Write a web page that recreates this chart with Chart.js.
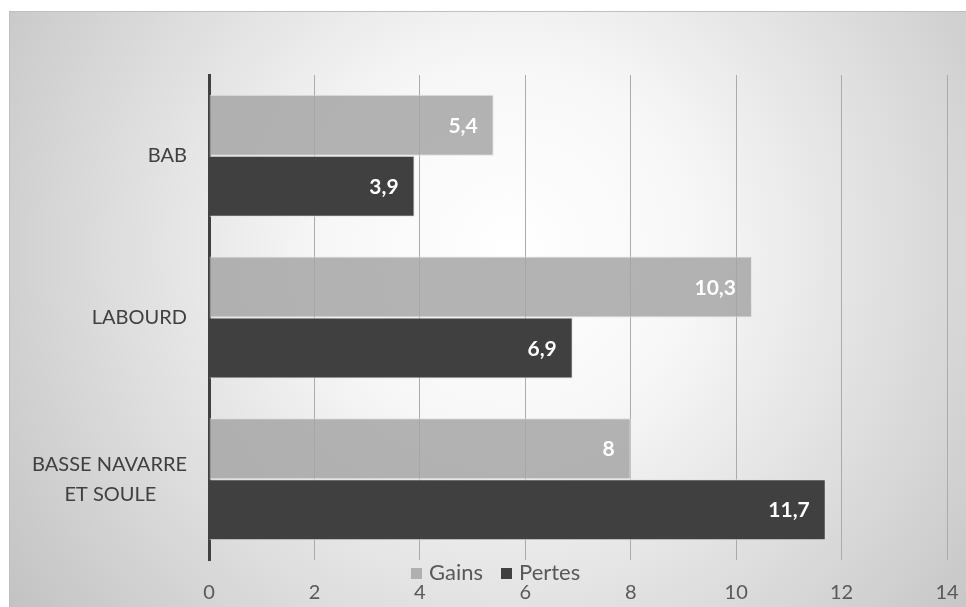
<!DOCTYPE html>
<html>
<head>
<meta charset="utf-8">
<script src="https://cdn.jsdelivr.net/npm/chart.js@4/dist/chart.umd.min.js"></script>
<style>
  html, body { margin: 0; padding: 0; background: #ffffff; }
  #wrap { position: relative; width: 966px; height: 607px; }
  canvas { display: block; }
  #legend { position: absolute; left: 411px; top: 559px; display: flex; align-items: center;
            font-family: Lato, "Open Sans", sans-serif; font-size: 22px; color: #595959; line-height: 26px; }
  #legend .item { display: flex; align-items: center; margin-right: 18px; }
  #legend .sw { width: 11px; height: 11px; margin-right: 7px; margin-top: 2px; }
</style>
</head>
<body>
<div id="wrap">
  <canvas id="c" width="966" height="607"></canvas>
  <div id="legend"></div>
</div>
<script>
const categories = [["BAB"], ["LABOURD"], ["BASSE NAVARRE", "ET SOULE      "]];
const seriesNames = ["Gains", "Pertes"];
const gains = [5.4, 10.3, 8];
const pertes = [3.9, 6.9, 11.7];
const xTicks = [0, 2, 4, 6, 8, 10, 12, 14];

const FONT = 'Lato, "Open Sans", sans-serif';

const bgPlugin = {
  id: 'bg',
  beforeDraw(chart) {
    const ctx = chart.ctx;
    ctx.save();
    const g = ctx.createRadialGradient(510, 250, 0, 510, 250, 620);
    g.addColorStop(0, '#ffffff');
    g.addColorStop(0.3, '#f7f7f7');
    g.addColorStop(1, '#c2c2c2');
    ctx.fillStyle = g;
    ctx.fillRect(9, 11, 957, 596);
    ctx.strokeStyle = '#c0c0c0';
    ctx.lineWidth = 1;
    ctx.beginPath();
    ctx.moveTo(9.5, 607); ctx.lineTo(9.5, 11.5); ctx.lineTo(966, 11.5);
    ctx.stroke();
    ctx.restore();
  }
};

const labelPlugin = {
  id: 'vals',
  afterDatasetsDraw(chart) {
    const ctx = chart.ctx;
    ctx.save();
    ctx.font = 'bold 21px ' + FONT;
    ctx.fillStyle = '#ffffff';
    ctx.textAlign = 'right';
    ctx.textBaseline = 'middle';
    chart.data.datasets.forEach((ds, i) => {
      chart.getDatasetMeta(i).data.forEach((bar, j) => {
        const txt = String(ds.data[j]).replace('.', ',');
        ctx.fillText(txt, bar.x - 16, bar.y + 1);
      });
    });
    ctx.restore();
  }
};

const chart = new Chart(document.getElementById('c'), {
  type: 'bar',
  data: {
    labels: categories,
    datasets: [
      { label: seriesNames[0], data: gains, backgroundColor: 'rgba(166,166,166,0.85)',
        borderColor: 'rgba(225,225,225,0.9)', borderWidth: 1, borderSkipped: 'left' },
      { label: seriesNames[1], data: pertes, backgroundColor: '#404040',
        borderColor: 'rgba(225,225,225,0.9)', borderWidth: 1, borderSkipped: 'left' }
    ]
  },
  options: {
    indexAxis: 'y',
    responsive: false,
    animation: false,
    layout: { padding: { top: 75, right: 19, bottom: 0, left: 9 } },
    datasets: { bar: { barPercentage: 1, categoryPercentage: 0.755 } },
    plugins: { legend: { display: false }, tooltip: { enabled: false } },
    scales: {
      x: {
        min: 0, max: 14,
        afterBuildTicks(scale) { scale.ticks = xTicks.map(v => ({ value: v })); },
        afterFit(scale) { scale.height = 47; scale.paddingRight = 0; scale.paddingLeft = 0; },
        grid: { color: '#ababab', lineWidth: 1, drawTicks: false },
        border: { display: false },
        ticks: { color: '#595959', font: { family: FONT, size: 20 }, padding: 21 }
      },
      y: {
        afterFit(scale) { scale.width = 200; scale.paddingTop = 0; scale.paddingBottom = 0; },
        grid: { display: false, drawTicks: false },
        border: { display: true, color: '#404040', width: 3 },
        ticks: { color: '#404040', font: { family: FONT, size: 20, lineHeight: 1.5 }, padding: 22 }
      }
    }
  },
  plugins: [bgPlugin, labelPlugin]
});

const legend = document.getElementById('legend');
chart.data.datasets.forEach(ds => {
  const it = document.createElement('div');
  it.className = 'item';
  const sw = document.createElement('span');
  sw.className = 'sw';
  sw.style.background = ds.label === 'Gains' ? '#b0b0b0' : '#404040';
  const t = document.createElement('span');
  t.textContent = ds.label;
  it.appendChild(sw); it.appendChild(t);
  legend.appendChild(it);
});
</script>
</body>
</html>
